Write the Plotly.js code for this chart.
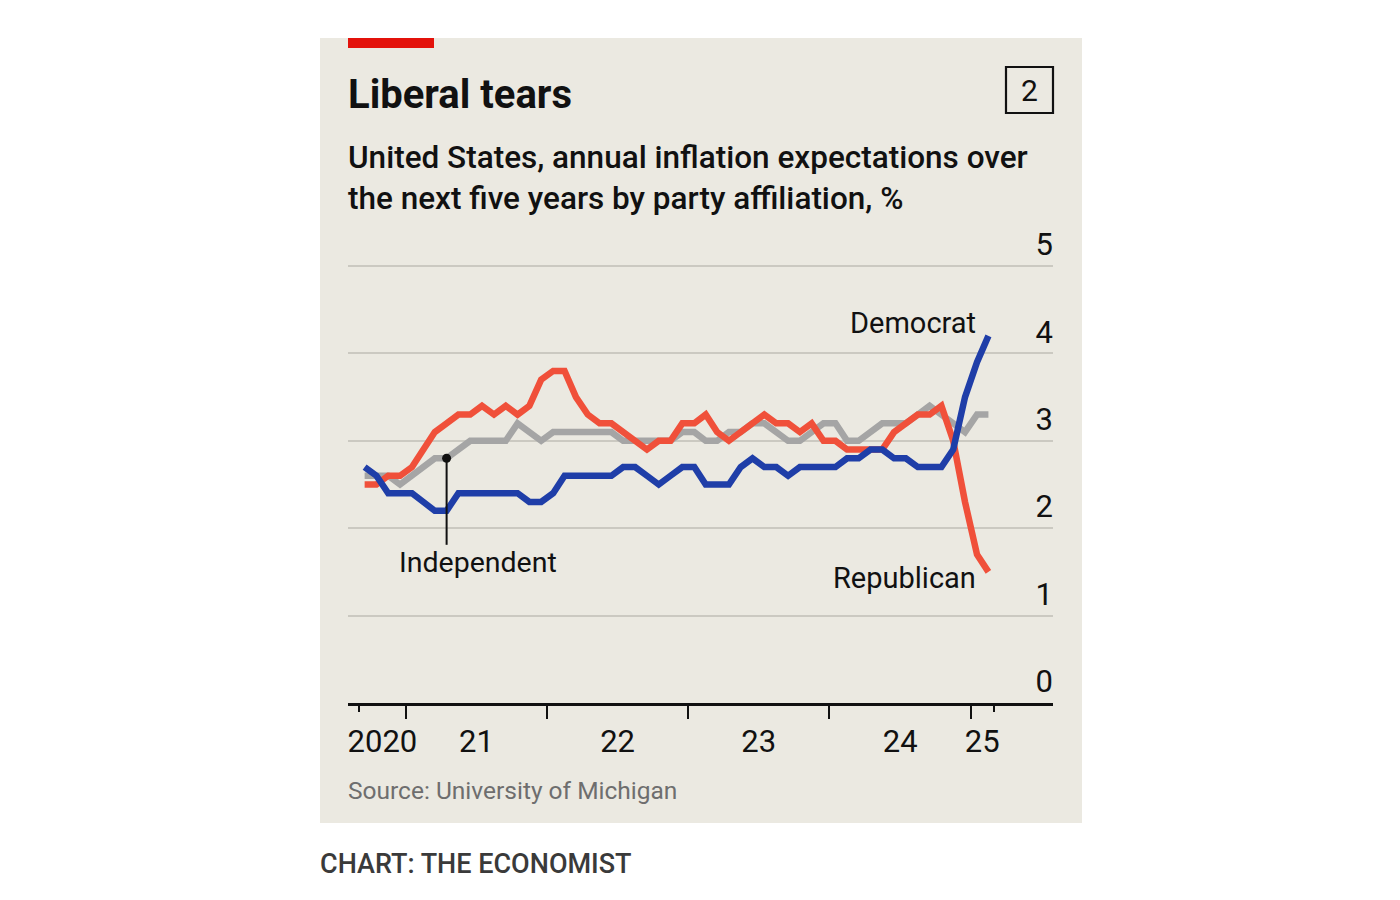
<!DOCTYPE html>
<html>
<head>
<meta charset="utf-8">
<script src="https://cdn.plot.ly/plotly-3.0.1.min.js"></script>
<style>
  html, body { margin:0; padding:0; background:#ffffff; }
  #chart { width:1400px; height:900px; }
</style>
</head>
<body>
<div id="chart"></div>
<script>
// ---- Data (University of Michigan, 5-year inflation expectations by party, %) ----
const months = [
  "2020-09","2020-10","2020-11","2020-12",
  "2021-01","2021-02","2021-03","2021-04","2021-05","2021-06","2021-07","2021-08","2021-09","2021-10","2021-11","2021-12",
  "2022-01","2022-02","2022-03","2022-04","2022-05","2022-06","2022-07","2022-08","2022-09","2022-10","2022-11","2022-12",
  "2023-01","2023-02","2023-03","2023-04","2023-05","2023-06","2023-07","2023-08","2023-09","2023-10","2023-11","2023-12",
  "2024-01","2024-02","2024-03","2024-04","2024-05","2024-06","2024-07","2024-08","2024-09","2024-10","2024-11","2024-12",
  "2025-01","2025-02"
];
const republican = [2.5,2.5,2.6,2.6,2.7,2.9,3.1,3.2,3.3,3.3, 3.4,3.3,3.4,3.3,3.4,3.7,3.8,3.8,3.5,3.3,
  3.2,3.2,3.1,3.0,2.9,3.0,3.0,3.2,3.2,3.3, 3.1,3.0,3.1,3.2,3.3,3.2,3.2,3.1,3.2,3.0,
  3.0,2.9,2.9,2.9,2.9,3.1,3.2,3.3,3.3,3.4, 3.0,2.3,1.7,1.5];
const independent = [2.6,2.6,2.6,2.5,2.6,2.7,2.8,2.8,2.9,3.0, 3.0,3.0,3.0,3.2,3.1,3.0,3.1,3.1,3.1,3.1,
  3.1,3.1,3.0,3.0,3.0,3.0,3.0,3.1,3.1,3.0, 3.0,3.1,3.1,3.2,3.2,3.1,3.0,3.0,3.1,3.2,
  3.2,3.0,3.0,3.1,3.2,3.2,3.2,3.3,3.4,3.3, 3.2,3.1,3.3,3.3];
const democrat = [2.7,2.6,2.4,2.4,2.4,2.3,2.2,2.2,2.4,2.4, 2.4,2.4,2.4,2.4,2.3,2.3,2.4,2.6,2.6,2.6,
  2.6,2.6,2.7,2.7,2.6,2.5,2.6,2.7,2.7,2.5, 2.5,2.5,2.7,2.8,2.7,2.7,2.6,2.7,2.7,2.7,
  2.7,2.8,2.8,2.9,2.9,2.8,2.8,2.7,2.7,2.7, 2.9,3.5,3.9,4.2];

const yTicks = [0,1,2,3,4,5];
const yTickText = ["0","1","2","3","4","5"];
const yearBoundaries = ["2021-01-01","2022-01-01","2023-01-01","2024-01-01","2025-01-01"];
const dataEdges = ["2020-09-01","2025-03-01"];
const yearLabelPos = ["2020-11-01","2021-07-02","2022-07-02","2023-07-02","2024-07-02","2025-01-30"];
const yearLabels = ["2020","21","22","23","24","25"];
const independentPointerIndex = 7;

// ---- Layout geometry (pixels) ----
const L = 348, R = 1053, T = 222, B = 703;
const px = x => (x - L) / (R - L);
const py = y => (B - y) / (B - T);
const FONT = "Roboto, 'Open Sans', sans-serif";
const xRange = ["2020-08-04","2025-08-01"];

const RED = "#f0503a", BLUE = "#1f3ea8", GREY = "#a5a5a5";

const period = {xperiod: "M1", xperiodalignment: "middle"};

const traces = [
  Object.assign({x: months, y: independent, mode: "lines", line: {color: GREY, width: 6.5},
    hoverinfo: "skip", showlegend: false, name: "Independent"}, period),
  Object.assign({x: months, y: republican, mode: "lines", line: {color: RED, width: 6.5},
    hoverinfo: "skip", showlegend: false, name: "Republican"}, period),
  Object.assign({x: months, y: democrat, mode: "lines", line: {color: BLUE, width: 6.5},
    hoverinfo: "skip", showlegend: false, name: "Democrat"}, period),
  Object.assign({x: [months[independentPointerIndex]], y: [independent[independentPointerIndex]],
    mode: "markers", marker: {color: "#111", size: 9}, hoverinfo: "skip", showlegend: false}, period),
  {x: yearLabelPos, y: yearLabelPos.map(() => null), xaxis: "x2", mode: "lines", hoverinfo: "skip", showlegend: false},
  {x: dataEdges, y: dataEdges.map(() => null), xaxis: "x3", mode: "lines", hoverinfo: "skip", showlegend: false}
];

const pointerDate = "2021-04-16";

const layout = {
  width: 1400, height: 900,
  margin: {l: L, r: 1400 - R, t: T, b: 900 - B, pad: 0},
  paper_bgcolor: "#ffffff",
  plot_bgcolor: "rgba(0,0,0,0)",
  font: {family: FONT, color: "#111"},
  xaxis: {
    type: "date", range: xRange, fixedrange: true,
    showline: true, linecolor: "#111", linewidth: 2.5,
    ticks: "outside", ticklen: 13, tickwidth: 2, tickcolor: "#111",
    tickmode: "array", tickvals: yearBoundaries, showticklabels: false,
    showgrid: false, zeroline: false, layer: "above traces"
  },
  xaxis2: {
    type: "date", range: xRange, overlaying: "x", anchor: "y", side: "bottom", fixedrange: true,
    tickmode: "array", tickvals: yearLabelPos, ticktext: yearLabels,
    ticks: "outside", ticklen: 11, tickcolor: "rgba(0,0,0,0)",
    tickfont: {family: FONT, size: 31, color: "#111"},
    showline: false, showgrid: false, zeroline: false
  },
  xaxis3: {
    type: "date", range: xRange, overlaying: "x", anchor: "y", side: "bottom", fixedrange: true,
    tickmode: "array", tickvals: dataEdges, showticklabels: false,
    ticks: "outside", ticklen: 8, tickwidth: 2, tickcolor: "#111",
    showline: false, showgrid: false, zeroline: false
  },
  yaxis: {
    range: [0, (B - T) / 87.4], side: "right", fixedrange: true,
    tickmode: "array", tickvals: yTicks, ticktext: yTickText,
    ticklabelposition: "inside top", ticks: "", ticklabelstandoff: -3,
    tickfont: {family: FONT, size: 31, color: "#111"},
    showgrid: true, gridcolor: "#cbc9c1", gridwidth: 2,
    zeroline: false, showline: false
  },
  shapes: [
    // background panel
    {type: "rect", xref: "paper", yref: "paper", x0: px(320), x1: px(1082), y0: py(823), y1: py(38),
     fillcolor: "#ebe9e1", line: {width: 0}, layer: "below"},
    // red tab
    {type: "rect", xref: "paper", yref: "paper", x0: px(348), x1: px(434), y0: py(48), y1: py(38),
     fillcolor: "#e3120b", line: {width: 0}, layer: "below"},
    // chart number box
    {type: "rect", xref: "paper", yref: "paper", x0: px(1006), x1: px(1053), y0: py(113), y1: py(67),
     fillcolor: "rgba(0,0,0,0)", line: {width: 2.2, color: "#111"}},
    // Independent pointer
    {type: "line", xref: "x", yref: "y", x0: pointerDate, x1: pointerDate, y0: independent[independentPointerIndex], y1: 1.81,
     line: {color: "#111", width: 2}}
  ],
  annotations: [
    {xref: "paper", yref: "paper", x: px(346), y: py(94), xanchor: "left", yanchor: "middle", showarrow: false,
     text: "Liberal tears", font: {family: FONT, size: 40, weight: 700, color: "#111"}},
    {xref: "paper", yref: "paper", x: px(346), y: py(157), xanchor: "left", yanchor: "middle", showarrow: false,
     text: "United States, annual inflation expectations over", font: {family: FONT, size: 31.5, weight: 500, color: "#111"}},
    {xref: "paper", yref: "paper", x: px(346), y: py(199), xanchor: "left", yanchor: "middle", showarrow: false,
     text: "the next five years by party affiliation, %", font: {family: FONT, size: 31.5, weight: 500, color: "#111"}},
    {xref: "paper", yref: "paper", x: px(1029.5), y: py(90.5), xanchor: "center", yanchor: "middle", showarrow: false,
     text: "2", font: {family: FONT, size: 30, color: "#111"}},
    {xref: "paper", yref: "paper", x: px(978), y: py(323), xanchor: "right", yanchor: "middle", showarrow: false,
     text: "Democrat", font: {family: FONT, size: 29, color: "#111"}},
    {xref: "paper", yref: "paper", x: px(978), y: py(578), xanchor: "right", yanchor: "middle", showarrow: false,
     text: "Republican", font: {family: FONT, size: 29, color: "#111"}},
    {xref: "paper", yref: "paper", x: px(397), y: py(562), xanchor: "left", yanchor: "middle", showarrow: false,
     text: "Independent", font: {family: FONT, size: 28.5, color: "#111"}},
    {xref: "paper", yref: "paper", x: px(346), y: py(790), xanchor: "left", yanchor: "middle", showarrow: false,
     text: "Source: University of Michigan", font: {family: FONT, size: 24.5, color: "#6e6e6e"}},
    {xref: "paper", yref: "paper", x: px(318), y: py(864), xanchor: "left", yanchor: "middle", showarrow: false,
     text: "CHART: THE ECONOMIST", font: {family: FONT, size: 27, weight: 500, color: "#3a3a3a"}}
  ]
};

Plotly.newPlot("chart", traces, layout, {staticPlot: true, displayModeBar: false});
</script>
</body>
</html>
